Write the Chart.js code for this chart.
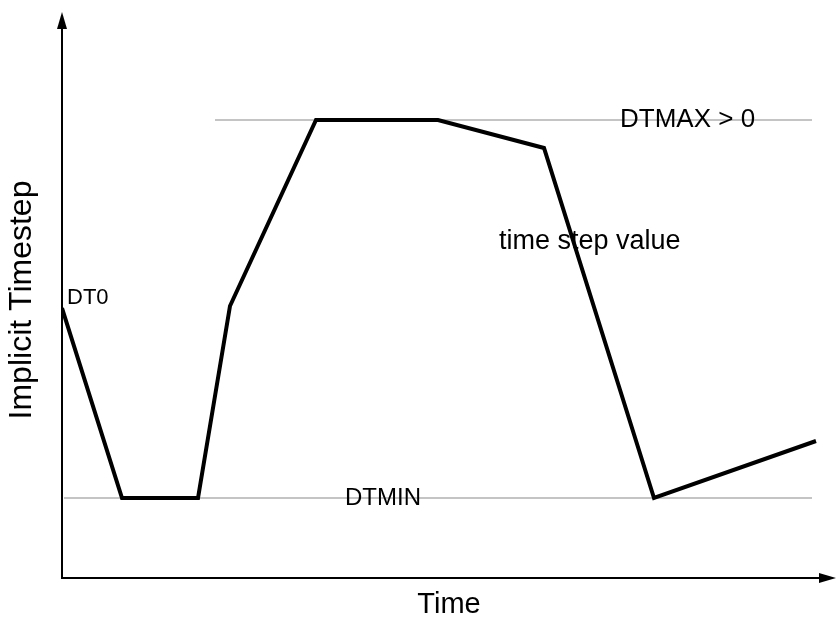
<!DOCTYPE html>
<html>
<head>
<meta charset="utf-8">
<script src="https://cdn.jsdelivr.net/npm/chart.js@4"></script>
<style>
  html, body { margin: 0; padding: 0; background: #fff; }
  #wrap { width: 836px; height: 626px; }
</style>
</head>
<body>
<div id="wrap"><canvas id="stepChart"></canvas></div>
<script>
// time step curve (arbitrary units)
const timeValues = [0, 60, 136, 168, 254, 376, 482, 592, 754];
const stepValues = [270, 80, 80, 272, 458, 458, 430, 80, 137];

// limit lines
const dtmax = 458;
const dtmin = 80;
const dtmaxSpan = [153, 750];
const dtminSpan = [2, 750];

// annotation texts
const noteTexts = ['DTMAX > 0', 'time step value', 'DT0', 'DTMIN'];
const noteX = [558, 437, 5, 283];
const noteY = [458, 336, 280, 80];
const noteSize = [26, 27, 22, 24];

const xTitle = 'Time';
const yTitle = 'Implicit Timestep';

const FONT = '"Liberation Sans", Arial, Helvetica, sans-serif';

// draws arrowed axes, text labels and axis titles
const decorPlugin = {
  id: 'decor',
  afterDatasetsDraw(chart) {
    const c = chart.ctx;
    const a = chart.chartArea;
    const xs = chart.scales.x, ys = chart.scales.y;
    c.save();
    c.strokeStyle = '#000';
    c.fillStyle = '#000';
    c.lineWidth = 2;
    // y axis
    c.beginPath();
    c.moveTo(a.left, a.bottom);
    c.lineTo(a.left, a.top + 10);
    c.stroke();
    c.beginPath();
    c.moveTo(a.left, a.top);
    c.lineTo(a.left - 5, a.top + 17);
    c.lineTo(a.left + 5, a.top + 17);
    c.closePath();
    c.fill();
    // x axis
    c.beginPath();
    c.moveTo(a.left - 1, a.bottom);
    c.lineTo(a.right - 10, a.bottom);
    c.stroke();
    c.beginPath();
    c.moveTo(a.right, a.bottom);
    c.lineTo(a.right - 17, a.bottom - 5);
    c.lineTo(a.right - 17, a.bottom + 5);
    c.closePath();
    c.fill();

    // annotations
    c.textAlign = 'left';
    c.textBaseline = 'middle';
    noteTexts.forEach((t, i) => {
      c.font = noteSize[i] + 'px ' + FONT;
      c.fillText(t, xs.getPixelForValue(noteX[i]), ys.getPixelForValue(noteY[i]));
    });

    // titles
    c.textAlign = 'center';
    c.font = '29px ' + FONT;
    c.fillText(xTitle, 449, 605);
    c.font = '32px ' + FONT;
    c.translate(22, 300);
    c.rotate(-Math.PI / 2);
    c.fillText(yTitle, 0, 0);
    c.restore();
  }
};

const ctx = document.getElementById('stepChart').getContext('2d');

new Chart(ctx, {
  type: 'line',
  data: {
    datasets: [
      {
        data: timeValues.map((x, i) => ({ x: x, y: stepValues[i] })),
        borderColor: '#000',
        borderWidth: 4,
        pointRadius: 0,
        tension: 0,
        order: 0
      },
      {
        data: dtmaxSpan.map(x => ({ x: x, y: dtmax })),
        borderColor: '#c4c4c4',
        borderWidth: 2,
        pointRadius: 0,
        order: 1
      },
      {
        data: dtminSpan.map(x => ({ x: x, y: dtmin })),
        borderColor: '#c4c4c4',
        borderWidth: 2,
        pointRadius: 0,
        order: 1
      }
    ]
  },
  options: {
    responsive: true,
    maintainAspectRatio: false,
    animation: false,
    layout: { padding: { left: 62, right: 0, top: 12, bottom: 48 } },
    scales: {
      x: { type: 'linear', min: 0, max: 774, display: false },
      y: { min: 0, max: 566, display: false }
    },
    plugins: {
      legend: { display: false },
      tooltip: { enabled: false }
    }
  },
  plugins: [decorPlugin]
});
</script>
</body>
</html>
